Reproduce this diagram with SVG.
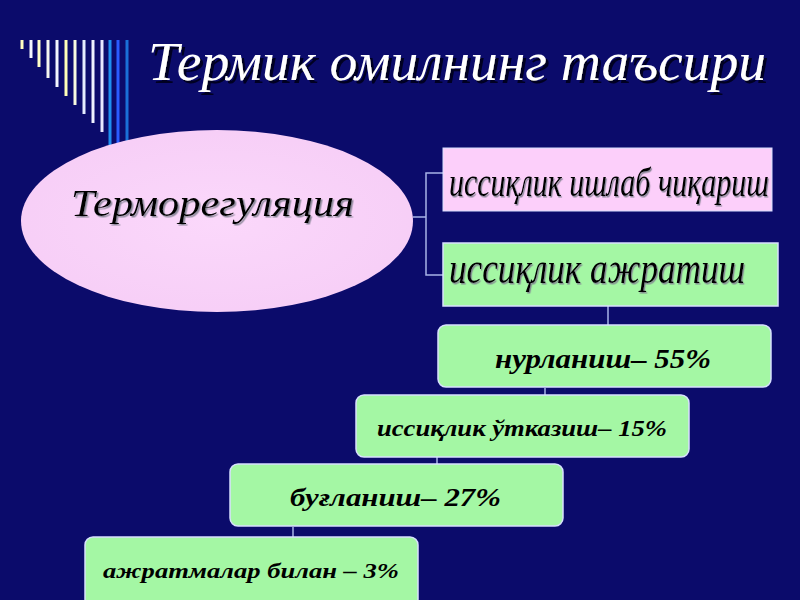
<svg xmlns="http://www.w3.org/2000/svg" width="800" height="600" viewBox="0 0 800 600">
<defs>
<style>
.bg{fill:#0b0b6b}
.deco{stroke-width:3;fill:none}
.conn{stroke:#a8b4e8;stroke-width:1.5;fill:none}
.box{fill:#a4f7a4;stroke:#d8e0ff;stroke-width:1.5}
.pbox{fill:#fccffa;stroke:#d8e0ff;stroke-width:1}
.t{font-family:"Liberation Serif","DejaVu Serif",serif;font-style:italic;fill:#000}
.b{font-weight:bold}
.title{font-family:"Liberation Serif","DejaVu Serif",serif;font-style:italic;fill:#ffffff}
</style>
<filter id="ds" x="-5%" y="-20%" width="110%" height="150%">
<feDropShadow dx="3" dy="3" stdDeviation="0.6" flood-color="#000020" flood-opacity="1"/>
</filter>
<filter id="ls" x="-5%" y="-20%" width="110%" height="150%">
<feDropShadow dx="1.5" dy="1.5" stdDeviation="0.5" flood-color="#808090" flood-opacity="0.9"/>
</filter>
<radialGradient id="eg" cx="0.5" cy="0.5" r="0.6">
<stop offset="0" stop-color="#fbd8fb"/>
<stop offset="1" stop-color="#f6cdf6"/>
</radialGradient>
</defs>
<rect class="bg" x="0" y="0" width="800" height="600"/>
<g id="decoration">
<line class="deco" x1="22" y1="40" x2="22" y2="49" stroke="#ffffc0"/>
<line class="deco" x1="31" y1="40" x2="31" y2="58" stroke="#f4f6ff"/>
<line class="deco" x1="39" y1="40" x2="39" y2="67" stroke="#ffffc8"/>
<line class="deco" x1="48" y1="40" x2="48" y2="78" stroke="#f4f6f0"/>
<line class="deco" x1="57" y1="40" x2="57" y2="87" stroke="#f4f6ff"/>
<line class="deco" x1="66" y1="40" x2="66" y2="96" stroke="#ffffb8"/>
<line class="deco" x1="75" y1="40" x2="75" y2="105" stroke="#f8fae0"/>
<line class="deco" x1="84" y1="40" x2="84" y2="114" stroke="#e4ecff"/>
<line class="deco" x1="93" y1="40" x2="93" y2="123" stroke="#eef2ff"/>
<line class="deco" x1="102" y1="40" x2="102" y2="132" stroke="#e8e8ff"/>
<line class="deco" x1="110" y1="40" x2="110" y2="145" stroke="#1e90f0"/>
<line class="deco" x1="118" y1="40" x2="118" y2="145" stroke="#2a5cff"/>
<line class="deco" x1="127" y1="40" x2="127" y2="145" stroke="#1a70d8"/>
</g>
<g id="title">
<text class="title" x="148" y="80" font-size="54" textLength="618" lengthAdjust="spacingAndGlyphs" filter="url(#ds)">Термик омилнинг таъсири</text>
</g>
<g id="connectors">
<polyline class="conn" points="413,217 426,217"/>
<polyline class="conn" points="443,173 426,173 426,275 443,275"/>
<line class="conn" x1="608" y1="306" x2="608" y2="325"/>
<line class="conn" x1="545" y1="388" x2="545" y2="395"/>
<line class="conn" x1="437" y1="457" x2="437" y2="464"/>
<line class="conn" x1="293" y1="527" x2="293" y2="537"/>
</g>
<g id="node-thermoregulation">
<ellipse cx="217" cy="221" rx="196" ry="91" fill="url(#eg)"/>
<text class="t" x="71" y="216" font-size="38" textLength="283" lengthAdjust="spacingAndGlyphs" filter="url(#ls)">Терморегуляция</text>
</g>
<g id="node-heat-production">
<rect class="pbox" x="443" y="148" width="329" height="63"/>
<text class="t" transform="translate(449,196) scale(0.75,1)" x="0" y="0" font-size="40" filter="url(#ls)">иссиқлик ишлаб чиқариш</text>
</g>
<g id="node-heat-release">
<rect class="box" x="443" y="243" width="335" height="63"/>
<text class="t" transform="translate(449,283) scale(0.8,1)" x="0" y="0" font-size="44" filter="url(#ls)">иссиқлик ажратиш</text>
</g>
<g id="node-radiation">
<rect class="box" x="438" y="325" width="333" height="62" rx="8"/>
<text class="t b" x="495" y="368" font-size="27" textLength="216" lengthAdjust="spacingAndGlyphs">нурланиш– 55%</text>
</g>
<g id="node-conduction">
<rect class="box" x="356" y="395" width="333" height="62" rx="8"/>
<text class="t b" x="377" y="436" font-size="23" textLength="290" lengthAdjust="spacingAndGlyphs">иссиқлик ўтказиш– 15%</text>
</g>
<g id="node-evaporation">
<rect class="box" x="230" y="464" width="333" height="62" rx="8"/>
<text class="t b" x="290" y="506" font-size="26" textLength="211" lengthAdjust="spacingAndGlyphs">буғланиш– 27%</text>
</g>
<g id="node-excretion">
<rect class="box" x="85" y="537" width="333" height="70" rx="8"/>
<text class="t b" x="103" y="578" font-size="22" textLength="296" lengthAdjust="spacingAndGlyphs">ажратмалар билан – 3%</text>
</g>
</svg>
